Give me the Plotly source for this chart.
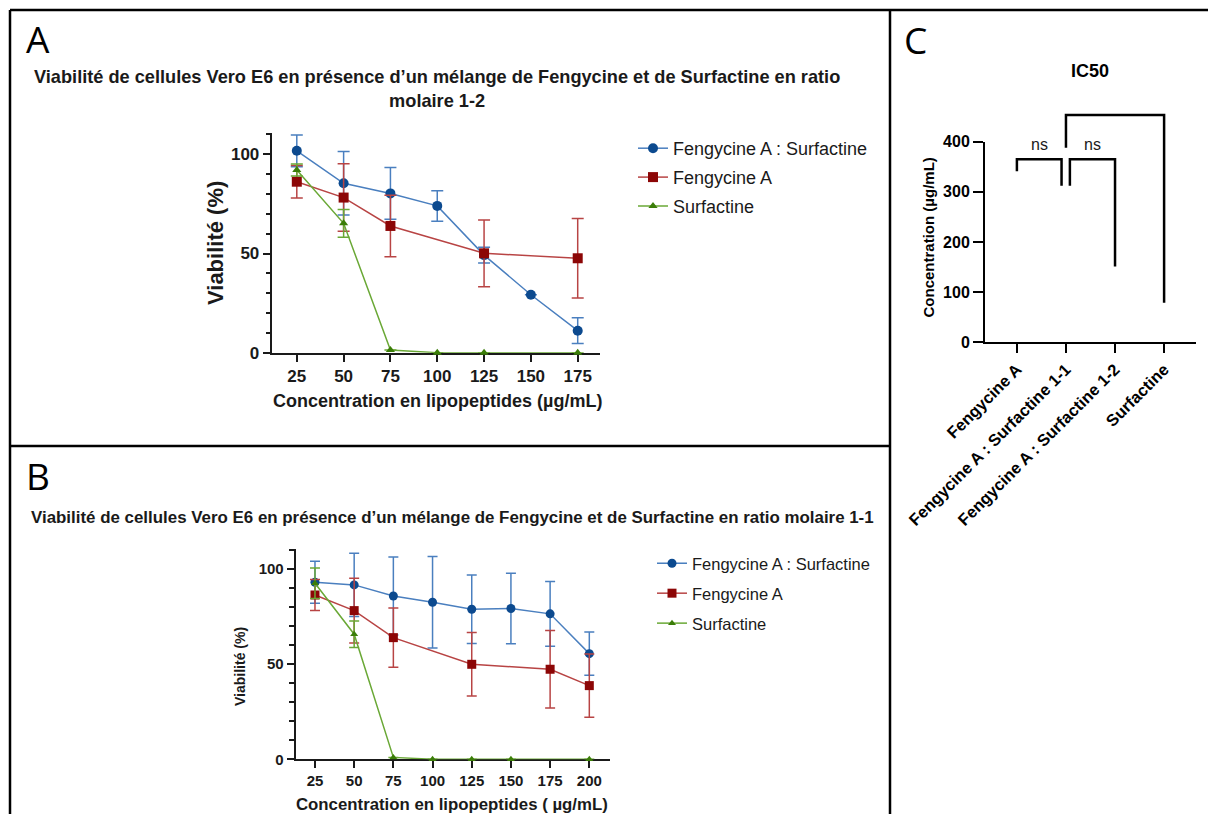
import plotly.graph_objects as go

W, H = 1208, 814
FONT = "Arial, Liberation Sans, sans-serif"

# ---- Panel A: Fengycine A : Surfactine, molar ratio 1-2 ----
ticks_a = [25, 50, 75, 100, 125, 150, 175]
conc_a_mix = [25, 50, 75, 100, 125, 150, 175]
viab_a_mix = [101.8, 85.4, 80.3, 74.0, 49.2, 29.2, 11.1]
sd_a_mix = [8.0, 16.0, 13.0, 7.7, 4.0, 0.0, 6.5]
conc_a_feng = [25, 50, 75, 125, 175]
viab_a_feng = [86.2, 78.2, 63.9, 50.1, 47.6]
sd_a_feng = [8.2, 17.0, 15.5, 16.8, 20.0]
conc_a_surf = [25, 50, 75, 100, 125, 175]
viab_a_surf = [92.1, 65.2, 1.3, 0.0, 0.0, 0.0]
sd_a_surf = [3.0, 7.0, 0.0, 0.0, 0.0, 0.0]

# ---- Panel B: Fengycine A : Surfactine, molar ratio 1-1 ----
ticks_b = [25, 50, 75, 100, 125, 150, 175, 200]
conc_b_mix = [25, 50, 75, 100, 125, 150, 175, 200]
viab_b_mix = [93.0, 91.6, 85.8, 82.5, 78.8, 79.2, 76.4, 55.5]
sd_b_mix = [11.0, 16.6, 20.5, 24.0, 18.0, 18.5, 17.0, 11.4]
conc_b_feng = [25, 50, 75, 125, 175, 200]
viab_b_feng = [86.3, 78.1, 63.9, 49.9, 47.3, 38.7]
sd_b_feng = [8.2, 17.0, 15.6, 16.7, 20.3, 16.6]
conc_b_surf = [25, 50, 75, 100, 125, 150, 200]
viab_b_surf = [92.5, 65.7, 1.0, 0.0, 0.0, 0.0, 0.0]
sd_b_surf = [8.0, 7.0, 0.0, 0.0, 0.0, 0.0, 0.0]

# ---- Panel C: IC50 comparisons ----
ic50_groups = ["Fengycine A", "Fengycine A : Surfactine 1-1",
               "Fengycine A : Surfactine 1-2", "Surfactine"]
ic50_ticks = [0, 100, 200, 300, 400]
bracket_left = [0.0, 1.08, 1.0]
bracket_right = [0.91, 2.0, 3.0]
bracket_left_end = [341, 312, 388]
bracket_right_end = [312, 151, 79]
bracket_top = [365, 365, 453]
bracket_labels = ["ns", "ns", ""]
bracket_label_y = 394

STYLES = {
    "mix": dict(name="Fengycine A : Surfactine", marker="#0c4a8f", line="#4a7fbf", symbol="circle"),
    "feng": dict(name="Fengycine A", marker="#8c0606", line="#b84444", symbol="square"),
    "surf": dict(name="Surfactine", marker="#3b7d08", line="#6aa836", symbol="triangle-up"),
}


def px_x(p):
    return p / W


def px_y(p):
    return 1 - p / H


fig = go.Figure()


def add_series(x, y, err, key, xa, ya, legend, msize, cap):
    s = STYLES[key]
    fig.add_trace(go.Scatter(
        x=x, y=y, mode="lines+markers", name=s["name"],
        line=dict(color=s["line"], width=1.5),
        marker=dict(symbol=s["symbol"], size=msize if key != "surf" else msize - 1,
                    color=s["marker"]),
        error_y=dict(type="data", array=err, visible=True, color=s["line"],
                     thickness=1.5, width=cap),
        xaxis=xa, yaxis=ya, legend=legend, legendgroup=legend + key,
        cliponaxis=False,
    ))


add_series(conc_a_mix, viab_a_mix, sd_a_mix, "mix", "x", "y", "legend", 10, 6)
add_series(conc_a_feng, viab_a_feng, sd_a_feng, "feng", "x", "y", "legend", 10, 6)
add_series(conc_a_surf, viab_a_surf, sd_a_surf, "surf", "x", "y", "legend", 9, 6)

add_series(conc_b_mix, viab_b_mix, sd_b_mix, "mix", "x2", "y2", "legend2", 9, 5)
add_series(conc_b_feng, viab_b_feng, sd_b_feng, "feng", "x2", "y2", "legend2", 9, 5)
add_series(conc_b_surf, viab_b_surf, sd_b_surf, "surf", "x2", "y2", "legend2", 8, 5)

# empty trace so the IC50 axes get drawn
fig.add_trace(go.Scatter(x=[0, 1, 2, 3], y=[None] * 4, mode="markers", showlegend=False,
                         hoverinfo="skip", xaxis="x3", yaxis="y3"))

# significance brackets for panel C, drawn on an overlay axis pair
for xl, xr, yl, yr, yt in zip(bracket_left, bracket_right, bracket_left_end,
                              bracket_right_end, bracket_top):
    fig.add_trace(go.Scatter(
        x=[xl, xl, xr, xr], y=[yl, yt, yt, yr], mode="lines",
        line=dict(color="black", width=2.5), showlegend=False,
        hoverinfo="skip", xaxis="x4", yaxis="y4",
    ))

axis_common = dict(showline=True, linecolor="#1a1a1a", linewidth=2, ticks="outside",
                   tickcolor="#1a1a1a", tickwidth=2, showgrid=False, zeroline=False,
                   layer="below traces")

# panel C frame geometry
c_left, c_right = 985, 1196
c_zero, c_top = 342.3, 141.7
c_scale = (c_zero - c_top) / 400.0
c_ext = 460

fig.update_layout(
    width=W, height=H, margin=dict(l=0, r=0, t=0, b=0, autoexpand=False),
    paper_bgcolor="white", plot_bgcolor="rgba(0,0,0,0)",
    font=dict(family=FONT, color="#1a1a1a"),
    xaxis=dict(axis_common, domain=[px_x(271.7), px_x(600)], range=[11.6, 186.9],
               tickvals=ticks_a, ticklen=7, anchor="y",
               tickfont=dict(size=17, weight="bold")),
    yaxis=dict(axis_common, domain=[px_y(352.7), px_y(133.3)], range=[0, 110.6],
               tickvals=[0, 50, 100], ticklen=7, anchor="x",
               tickfont=dict(size=17, weight="bold"),
               minor=dict(tickvals=list(range(0, 111, 10)), ticks="outside", ticklen=4,
                          tickwidth=1.5, tickcolor="#1a1a1a", showgrid=False)),
    xaxis2=dict(axis_common, domain=[px_x(295.7), px_x(610)], range=[12.7, 213.2],
                tickvals=ticks_b, ticklen=7, anchor="y2",
                tickfont=dict(size=15, weight="bold")),
    yaxis2=dict(axis_common, domain=[px_y(759.3), px_y(549.3)], range=[0, 110.3],
                tickvals=[0, 50, 100], ticklen=7, anchor="x2",
                tickfont=dict(size=15, weight="bold"),
                minor=dict(tickvals=list(range(0, 111, 10)), ticks="outside", ticklen=5,
                           tickwidth=1.5, tickcolor="#1a1a1a", showgrid=False)),
    xaxis3=dict(axis_common, domain=[px_x(c_left), px_x(c_right)], range=[-0.65, 3.65],
                tickvals=[0, 1, 2, 3], ticktext=ic50_groups, tickangle=-45, ticklen=9,
                anchor="y3", linecolor="black", tickcolor="black",
                tickfont=dict(size=16.5, weight="bold", color="black")),
    yaxis3=dict(axis_common, domain=[px_y(c_zero), px_y(c_top)], range=[0, 400],
                tickvals=ic50_ticks, ticklen=10, anchor="x3", linecolor="black",
                tickcolor="black", tickfont=dict(size=16, weight="bold", color="black")),
    xaxis4=dict(domain=[px_x(c_left), px_x(c_right)], range=[-0.65, 3.65], anchor="y4",
                visible=False, showgrid=False, zeroline=False),
    yaxis4=dict(domain=[px_y(c_zero), px_y(c_zero - c_ext * c_scale)], range=[0, c_ext],
                anchor="x4", visible=False, showgrid=False, zeroline=False),
    legend=dict(x=px_x(633), y=px_y(130), xanchor="left", yanchor="top",
                font=dict(size=18, family=FONT, color="#1a1a1a"),
                bgcolor="rgba(0,0,0,0)", itemwidth=30, tracegroupgap=2.5),
    legend2=dict(x=px_x(652), y=px_y(546), xanchor="left", yanchor="top",
                 font=dict(size=16.5, family=FONT, color="#1a1a1a"),
                 bgcolor="rgba(0,0,0,0)", itemwidth=30, tracegroupgap=5.5),
    showlegend=True,
)

annotations = [
    # panel letters
    dict(text="A", x=px_x(24), y=px_y(38), xanchor="left", yanchor="middle",
         font=dict(size=37, family="Open Sans, sans-serif", color="black")),
    dict(text="B", x=px_x(24), y=px_y(475), xanchor="left", yanchor="middle",
         font=dict(size=37, family="Open Sans, sans-serif", color="black")),
    dict(text="C", x=px_x(902), y=px_y(39), xanchor="left", yanchor="middle",
         font=dict(size=37, family="Open Sans, sans-serif", color="black")),
    # panel titles
    dict(text="Viabilité de cellules Vero E6 en présence d’un mélange de Fengycine et de Surfactine en ratio<br>molaire 1-2",
         x=px_x(437), y=px_y(89), xanchor="center", yanchor="middle",
         font=dict(size=18.2, weight="bold", color="#1a1a1a")),
    dict(text="Viabilité de cellules Vero E6 en présence d’un mélange de Fengycine et de Surfactine en ratio molaire 1-1",
         x=px_x(452), y=px_y(517), xanchor="center", yanchor="middle",
         font=dict(size=16.9, weight="bold", color="#1a1a1a")),
    dict(text="IC50", x=px_x(1090), y=px_y(71), xanchor="center", yanchor="middle",
         font=dict(size=18, weight="bold", color="black")),
    # axis titles
    dict(text="Viabilité (%)", x=px_x(215), y=px_y(243), textangle=-90,
         xanchor="center", yanchor="middle", font=dict(size=22, weight="bold")),
    dict(text="Concentration en lipopeptides (µg/mL)", x=px_x(437), y=px_y(401),
         xanchor="center", yanchor="middle", font=dict(size=18, weight="bold")),
    dict(text="Viabilité (%)", x=px_x(240), y=px_y(666), textangle=-90,
         xanchor="center", yanchor="middle", font=dict(size=14, weight="bold")),
    dict(text="Concentration en lipopeptides ( µg/mL)", x=px_x(452), y=px_y(804),
         xanchor="center", yanchor="middle", font=dict(size=16.8, weight="bold")),
    dict(text="Concentration (µg/mL)", x=px_x(928.5), y=px_y(238), textangle=-90,
         xanchor="center", yanchor="middle",
         font=dict(size=15, weight="bold", color="black")),
]
for xl, xr, lbl in zip(bracket_left, bracket_right, bracket_labels):
    if lbl:
        annotations.append(dict(text=lbl, x=(xl + xr) / 2, y=bracket_label_y,
                                xref="x4", yref="y4", xanchor="center", yanchor="middle",
                                showarrow=False, font=dict(size=16, color="#1a1a1a")))
for a in annotations:
    a.setdefault("xref", "paper")
    a.setdefault("yref", "paper")
    a["showarrow"] = False
fig.update_layout(annotations=annotations)

# panel frame
frame = [
    (10, 10, W, 10),
    (10, 10, 10, H),
    (890, 10, 890, H),
    (10, 446, 890, 446),
]
fig.update_layout(shapes=[
    dict(type="line", xref="paper", yref="paper", x0=px_x(a), y0=px_y(b),
         x1=px_x(c), y1=px_y(d), line=dict(color="black", width=2.5))
    for a, b, c, d in frame
])

fig.write_html("out.html")
